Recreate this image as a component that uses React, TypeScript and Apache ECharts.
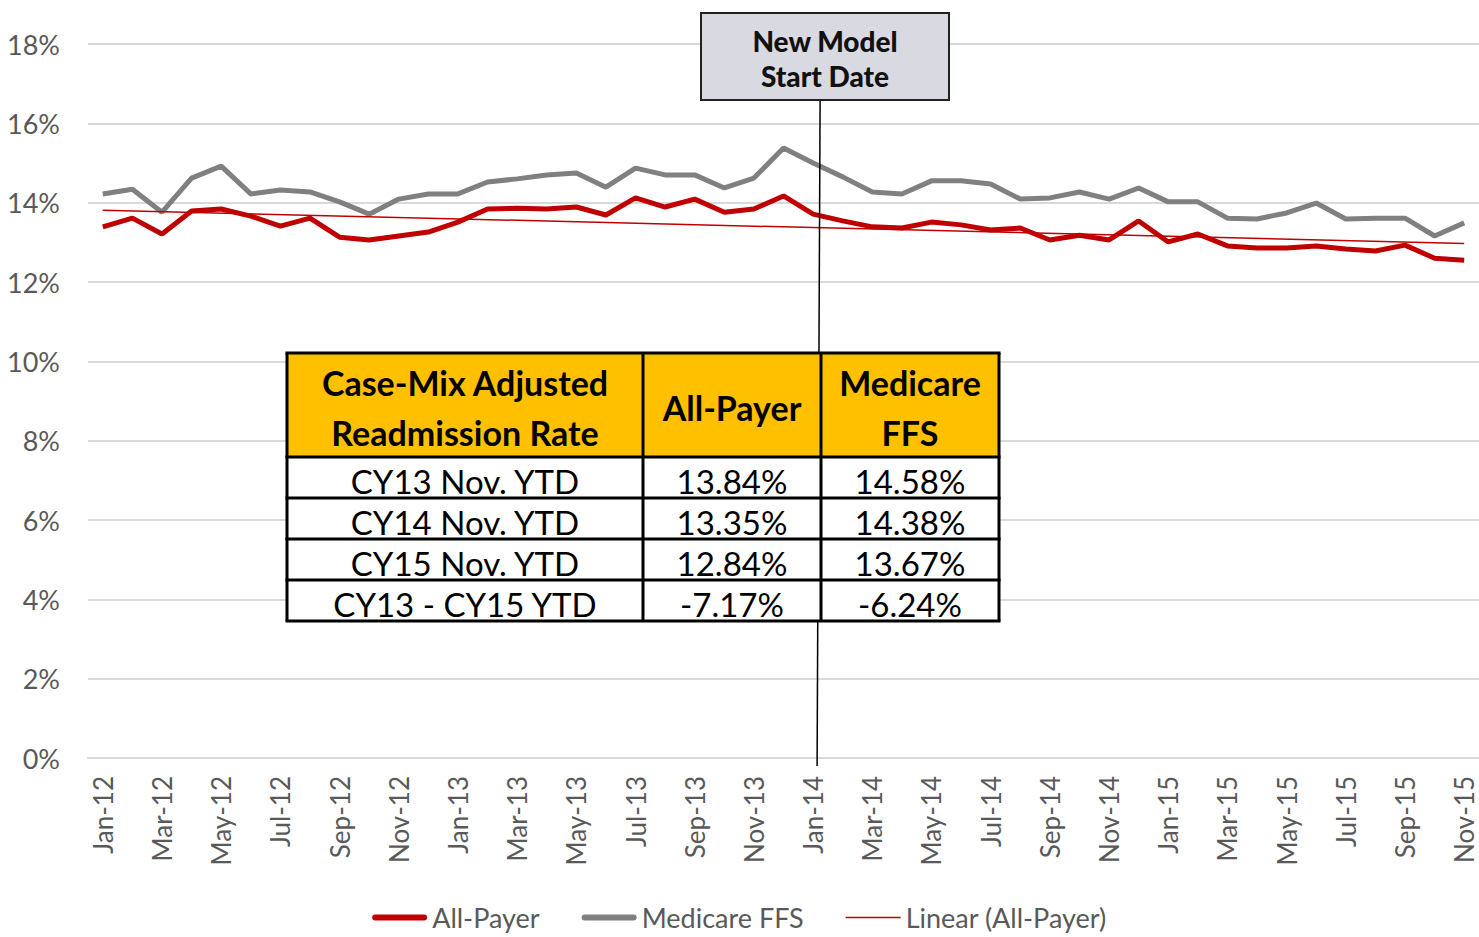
import React, { useEffect, useRef } from "react";
import * as echarts from "echarts";

const months = [
  "Jan-12","Feb-12","Mar-12","Apr-12","May-12","Jun-12","Jul-12","Aug-12","Sep-12","Oct-12","Nov-12","Dec-12",
  "Jan-13","Feb-13","Mar-13","Apr-13","May-13","Jun-13","Jul-13","Aug-13","Sep-13","Oct-13","Nov-13","Dec-13",
  "Jan-14","Feb-14","Mar-14","Apr-14","May-14","Jun-14","Jul-14","Aug-14","Sep-14","Oct-14","Nov-14","Dec-14",
  "Jan-15","Feb-15","Mar-15","Apr-15","May-15","Jun-15","Jul-15","Aug-15","Sep-15","Oct-15","Nov-15",
];

const allPayer = [
  13.39, 13.61, 13.21, 13.79, 13.84, 13.66, 13.41, 13.61, 13.13, 13.06, 13.16, 13.26,
  13.51, 13.84, 13.86, 13.84, 13.89, 13.69, 14.12, 13.89, 14.09, 13.76, 13.84, 14.17,
  13.71, 13.54, 13.39, 13.36, 13.51, 13.44, 13.31, 13.36, 13.06, 13.18, 13.06, 13.54,
  13.01, 13.21, 12.91, 12.86, 12.86, 12.91, 12.83, 12.78, 12.93, 12.60, 12.55,
];

const medicareFFS = [
  14.22, 14.34, 13.76, 14.62, 14.92, 14.22, 14.32, 14.27, 14.02, 13.71, 14.09, 14.22,
  14.22, 14.52, 14.60, 14.70, 14.75, 14.39, 14.87, 14.70, 14.70, 14.37, 14.62, 15.38,
  15.00, 14.65, 14.27, 14.22, 14.55, 14.55, 14.47, 14.09, 14.12, 14.27, 14.09, 14.37,
  14.02, 14.02, 13.61, 13.59, 13.74, 13.99, 13.59, 13.61, 13.61, 13.16, 13.49,
];

// Linear trend of All-Payer: read endpoints
const trendStart = 13.81;
const trendEnd = 12.97;

const yTicks = { min: 0, max: 18, interval: 2 };

const tableHeader = ["Case-Mix Adjusted\nReadmission Rate", "All-Payer", "Medicare\nFFS"];
const tableRows = [
  ["CY13 Nov. YTD", "13.84%", "14.58%"],
  ["CY14 Nov. YTD", "13.35%", "14.38%"],
  ["CY15 Nov. YTD", "12.84%", "13.67%"],
  ["CY13 - CY15 YTD", "-7.17%", "-6.24%"],
];

const annotationMonth = "Jan-14";
const annotationText = "New Model\nStart Date";

const RED = "#C00000";
const GRAY = "#808080";
const AXIS_TXT = "#595959";
const FONT = "Lato, 'Open Sans', sans-serif";

const THICK_ICON = "path://M3,4 H52 A3,3 0 0 1 52,10 H3 A3,3 0 0 1 3,4 Z M0,0 M55,14";
const THIN_ICON = "path://M0,6.2 H55 V7.8 H0 Z M0,0 M55,14";

export default function App() {
  const ref = useRef<HTMLDivElement>(null);

  useEffect(() => {
    document.body.style.margin = "0";
    if (!ref.current) return;
    const chart = echarts.init(ref.current, undefined, { renderer: "svg" });

    const trendData = months.map((m, i) =>
      i === 0 ? trendStart : i === months.length - 1 ? trendEnd : null
    );

    chart.setOption({
      animation: false,
      backgroundColor: "#ffffff",
      textStyle: { fontFamily: FONT },
      grid: { left: 88, right: 0, top: 44, bottom: 179, containLabel: false },
      xAxis: {
        type: "category",
        data: months,
        boundaryGap: true,
        axisLine: { show: true, lineStyle: { color: "#d9d9d9", width: 2 } },
        axisTick: { show: false },
        axisLabel: {
          interval: 1,
          rotate: 90,
          fontSize: 26,
          color: AXIS_TXT,
          fontFamily: FONT,
          margin: 18,
        },
        splitLine: { show: false },
      },
      yAxis: {
        type: "value",
        min: yTicks.min,
        max: yTicks.max,
        interval: yTicks.interval,
        axisLine: { show: false },
        axisTick: { show: false },
        axisLabel: {
          formatter: "{value}%",
          fontSize: 27,
          color: AXIS_TXT,
          fontFamily: FONT,
          margin: 28,
        },
        splitLine: { lineStyle: { color: "#d9d9d9", width: 2 } },
      },
      legend: {
        top: 899,
        left: "center",
        itemWidth: 55,
        itemHeight: 14,
        itemGap: 42,
        textStyle: { fontSize: 27, color: AXIS_TXT, fontFamily: FONT },
        data: [
          { name: "All-Payer", icon: THICK_ICON, itemStyle: { color: RED } },
          { name: "Medicare FFS", icon: THICK_ICON, itemStyle: { color: GRAY } },
          { name: "Linear (All-Payer)", icon: THIN_ICON, itemStyle: { color: RED } },
        ],
      },
      series: [
        {
          name: "Medicare FFS",
          type: "line",
          data: medicareFFS,
          symbol: "none",
          lineStyle: { color: GRAY, width: 5 },
          itemStyle: { color: GRAY },
          z: 2,
        },
        {
          name: "All-Payer",
          type: "line",
          data: allPayer,
          symbol: "none",
          lineStyle: { color: RED, width: 5 },
          itemStyle: { color: RED },
          z: 3,
        },
        {
          name: "Linear (All-Payer)",
          type: "line",
          data: trendData,
          connectNulls: true,
          symbol: "none",
          lineStyle: { color: RED, width: 1.5 },
          itemStyle: { color: RED },
          z: 4,
        },
      ],
    });

    const ax = chart.convertToPixel({ xAxisIndex: 0 }, annotationMonth) as number;
    const y0 = chart.convertToPixel({ yAxisIndex: 0 }, 0) as number;

    // table geometry
    const colX = [287, 643, 821, 999];
    const rowY = [353, 457, 498, 539, 580, 621];
    const tableEls: any[] = [];
    tableEls.push({
      type: "rect",
      shape: { x: colX[0], y: rowY[0], width: colX[3] - colX[0], height: rowY[1] - rowY[0] },
      style: { fill: "#FFC000" },
      z: 10,
    });
    tableEls.push({
      type: "rect",
      shape: { x: colX[0], y: rowY[1], width: colX[3] - colX[0], height: rowY[5] - rowY[1] },
      style: { fill: "#ffffff" },
      z: 10,
    });
    tableHeader.forEach((t, c) => {
      tableEls.push({
        type: "text",
        x: (colX[c] + colX[c + 1]) / 2,
        y: (rowY[0] + rowY[1]) / 2 + 2,
        style: {
          text: t,
          fontSize: 34,
          fontWeight: "bold",
          fontFamily: FONT,
          fill: "#000",
          align: "center",
          verticalAlign: "middle",
          lineHeight: 50,
        },
        z: 12,
      });
    });
    tableRows.forEach((row, r) => {
      row.forEach((t, c) => {
        tableEls.push({
          type: "text",
          x: (colX[c] + colX[c + 1]) / 2,
          y: (rowY[r + 1] + rowY[r + 2]) / 2 + 3,
          style: {
            text: t,
            fontSize: 33,
            fontFamily: FONT,
            fill: "#000",
            align: "center",
            verticalAlign: "middle",
          },
          z: 12,
        });
      });
    });
    rowY.forEach((y) => {
      tableEls.push({
        type: "line",
        shape: { x1: colX[0] - 1.5, y1: y, x2: colX[3] + 1.5, y2: y },
        style: { stroke: "#000", lineWidth: 3 },
        z: 13,
      });
    });
    colX.forEach((x) => {
      tableEls.push({
        type: "line",
        shape: { x1: x, y1: rowY[0], x2: x, y2: rowY[5] },
        style: { stroke: "#000", lineWidth: 3 },
        z: 13,
      });
    });

    chart.setOption({
      graphic: [
        {
          type: "line",
          shape: { x1: ax + 7, y1: 100, x2: ax + 4, y2: y0 + 8 },
          style: { stroke: "#000", lineWidth: 1.5 },
          z: 8,
        },
        {
          type: "rect",
          shape: { x: 701, y: 13, width: 248, height: 87 },
          style: { fill: "#D9D9E1", stroke: "#222", lineWidth: 2 },
          z: 9,
        },
        {
          type: "text",
          x: 825,
          y: 58,
          style: {
            text: annotationText,
            fontSize: 28,
            fontWeight: 900,
            fontFamily: FONT,
            fill: "#111",
            align: "center",
            verticalAlign: "middle",
            lineHeight: 35,
          },
          z: 10,
        },
        ...tableEls,
      ],
    });

    return () => chart.dispose();
  }, []);

  return <div ref={ref} style={{ width: 1479, height: 937 }} />;
}
